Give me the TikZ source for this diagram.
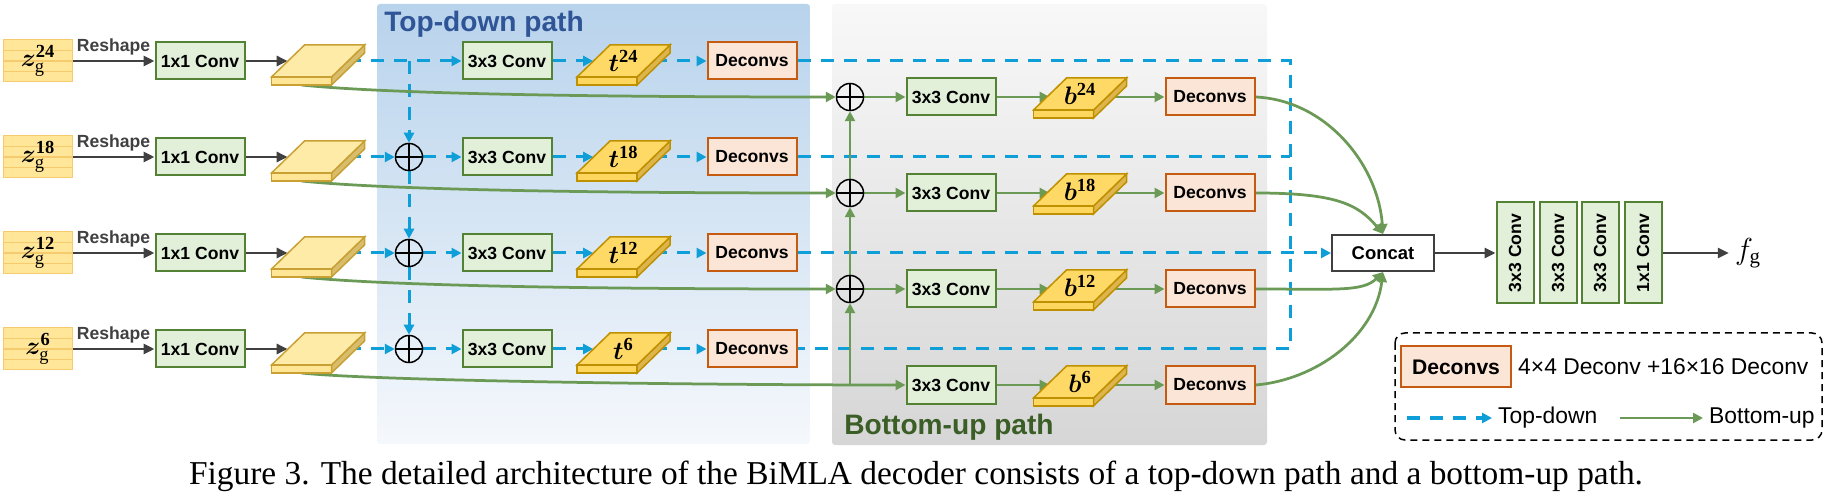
\documentclass[tikz,border=0pt]{standalone}
\usepackage{fontspec}
\setmainfont{Liberation Serif}
\setsansfont{Liberation Sans}
\usepackage{amsmath}
\usepackage{bm}
\usetikzlibrary{arrows.meta,calc}

\definecolor{convfill}{HTML}{E2F0D9}
\definecolor{convedge}{HTML}{548235}
\definecolor{decfill}{HTML}{FBE5D6}
\definecolor{decedge}{HTML}{C55A11}
\definecolor{zfill}{HTML}{FFE699}
\definecolor{zedge}{HTML}{F6CB6E}
\definecolor{ftop}{HTML}{FFEBA8}
\definecolor{ffront}{HTML}{FFE596}
\definecolor{fside}{HTML}{D8BD6C}
\definecolor{fedge}{HTML}{C9A033}
\definecolor{ttop}{HTML}{FFD966}
\definecolor{tfront}{HTML}{FFD75E}
\definecolor{tside}{HTML}{DDB54C}
\definecolor{tedge}{HTML}{BF9000}
\definecolor{tdblue}{HTML}{0E9ED8}
\definecolor{bugreen}{HTML}{6A9A56}
\definecolor{darkline}{HTML}{404040}
\definecolor{tdtext}{HTML}{2F5597}
\definecolor{butext}{HTML}{3B5E26}
\definecolor{bluetop}{HTML}{B8D3EC}
\definecolor{bluebot}{HTML}{F5F8FC}
\definecolor{graytop}{HTML}{F8F8F8}
\definecolor{graybot}{HTML}{D6D6D6}

\pgfdeclarelayer{panel}
\pgfdeclarelayer{links}
\pgfsetlayers{panel,links,main}

\tikzset{
	convbox/.style={draw=convedge, fill=convfill, line width=0.4mm, inner sep=0pt, minimum width=17.8mm, minimum height=7.4mm, font=\sffamily\bfseries\fontsize{10}{12}\selectfont},
	decbox/.style={convbox, draw=decedge, fill=decfill},
	vbox/.style={convbox, minimum width=7.4mm, minimum height=20.2mm},
	catbox/.style={convbox, draw=darkline, fill=white, minimum width=20.4mm, minimum height=7.2mm, font=\sffamily\bfseries\fontsize{10.5}{12}\selectfont},
	zbox/.style={fill=zfill, draw=zedge, line width=0.2mm, inner sep=0pt, minimum width=13.6mm, minimum height=8.4mm, font=\fontsize{15}{17}\selectfont,
		path picture={\foreach \k in {0.25,0.5,0.75} \draw[zedge, line width=0.25mm] ($(path picture bounding box.south west)!\k!(path picture bounding box.north west)$) -- ($(path picture bounding box.south east)!\k!(path picture bounding box.north east)$);}},
	slabnode/.style={inner sep=0pt, minimum width=12mm, minimum height=6.4mm, font=\fontsize{15}{17}\selectfont},
	addnode/.style={circle, draw, line width=0.3mm, inner sep=0pt, minimum size=5.4mm,
		path picture={\draw[line width=0.3mm] (path picture bounding box.north) -- (path picture bounding box.south) (path picture bounding box.west) -- (path picture bounding box.east);}},
	rslabel/.style={above=1.5pt, inner sep=1pt, font=\sffamily\bfseries\fontsize{10}{12}\selectfont},
	tdline/.style={tdblue, line width=0.6mm, dash pattern=on 2.6mm off 2mm},
	tdarrow/.style={tdline, -{Triangle[length=2mm,width=2mm]}},
	buarrow/.style={bugreen, line width=0.55mm, -{Triangle[length=2mm,width=2mm]}},
	dkarrow/.style={darkline, line width=0.55mm, -{Triangle[length=2.2mm,width=2mm]}},
	pathtitle/.style={anchor=west, inner sep=0pt, font=\sffamily\bfseries\fontsize{16}{18}\selectfont},
	legtext/.style={anchor=west, font=\sffamily\fontsize{13}{15}\selectfont},
	legbox/.style={black, line width=0.3mm, dash pattern=on 1.4mm off 1mm, rounded corners=2mm}
}

\newcommand{\slab}[5]{%
	\fill[#4front, draw=#4edge, line width=0.3mm] (#2-46.5,#3+16) -- (#2+13.5,#3+16) -- (#2+13.5,#3+24) -- (#2-46.5,#3+24) -- cycle;
	\fill[#4side, draw=#4edge, line width=0.3mm] (#2+13.5,#3+16) -- (#2+46.5,#3-16) -- (#2+46.5,#3-8) -- (#2+13.5,#3+24) -- cycle;
	\fill[#4top, draw=#4edge, line width=0.3mm] (#2-46.5,#3+16) -- (#2+13.5,#3+16) -- (#2+46.5,#3-16) -- (#2-13.5,#3-16) -- cycle;
	\node[slabnode] (#1) at (#2,#3) {#5};
	\coordinate (#1-b) at (#2-16.5,#3+24);
}

\begin{document}
\begin{tikzpicture}[x=0.2mm,y=-0.2mm]
	\useasboundingbox (0,0) rectangle (1828,499);
	\begin{pgfonlayer}{panel}
		\shade[top color=bluetop, bottom color=bluebot, rounded corners=0.6mm] (377,4) rectangle (810,444);
		\shade[top color=graytop, bottom color=graybot, rounded corners=0.6mm] (832,4) rectangle (1267,445);
	\end{pgfonlayer}
	\node[pathtitle, tdtext] (tdtitle) at (384,24) {Top-down path};
	\node[pathtitle, butext] (butitle) at (844,427) {Bottom-up path};
	\foreach \r/\n in {1/24,2/18,3/12,4/6}{
		\pgfmathsetmacro{\td}{61+96*(\r-1)}
		\pgfmathsetmacro{\bu}{\td+36}
		\node[zbox] (z\r) at (38,\td) {$\bm{z}_{\mathrm{g}}^{\mathbf{\n}}$};
		\node[convbox] (c\r) at (200,\td) {1x1 Conv};
		\slab{f\r}{318}{\td}{f}{}
		\node[convbox] (ct\r) at (507,\td) {3x3 Conv};
		\slab{t\r}{623.5}{\td}{t}{$\bm{t}^{\mathbf{\n}}$}
		\node[decbox] (dt\r) at (752,\td) {Deconvs};
		\node[convbox] (cb\r) at (951,\bu) {3x3 Conv};
		\slab{b\r}{1080}{\bu-3}{t}{$\bm{b}^{\mathbf{\n}}$}
		\node[decbox] (db\r) at (1210,\bu) {Deconvs};
	}
	\foreach \r in {2,3,4}
		\node[addnode] (pt\r) at (409,{61+96*(\r-1)}) {};
	\foreach \r in {1,2,3}
		\node[addnode] (pb\r) at (850,{97+96*(\r-1)}) {};
	\node[catbox] (cat) at (1383,253) {Concat};
	\foreach \x/\lab [count=\i] in {1515/3x3 Conv,1558/3x3 Conv,1600/3x3 Conv,1643/1x1 Conv}
		\node[vbox] (k\i) at (\x,253) {\rotatebox{90}{\lab}};
	\node[font=\fontsize{17}{19}\selectfont] (fg) at (1748,253) {$f_{\mathrm{g}}$};
	\coordinate (tdc) at (1290,61);

	\draw[legbox] (1395,333) rectangle (1822,440);
	\node[decbox, minimum width=22mm, minimum height=8.2mm, font=\sffamily\bfseries\fontsize{12}{14}\selectfont] (ldec) at (1456,367) {Deconvs};
	\node[legtext] (ltxt) at (ldec.east) {4×4 Deconv +16×16 Deconv};
	\coordinate (lta) at (1407,418);
	\node[legtext] (ltd) at (1492,418) {Top-down};
	\coordinate (lba) at (1620,418);
	\node[legtext] (lbu) at (1703,418) {Bottom-up};

	\node[anchor=base, font=\fontsize{19}{22}\selectfont] (caption) at (916,484) {Figure 3. The detailed architecture of the BiMLA decoder consists of a top-down path and a bottom-up path.};

	\begin{pgfonlayer}{links}
		\foreach \r in {1,...,4}{
			\draw[dkarrow] (z\r) -- node[rslabel] (rs\r) {Reshape} (c\r);
			\draw[dkarrow] (c\r) -- (f\r);
			\draw[tdarrow] (ct\r) -- (t\r);
			\draw[tdarrow] (t\r) -- (dt\r);
			\draw[buarrow] (cb\r) -- (cb\r -| b\r.west);
			\draw[buarrow] (b\r.east |- db\r) -- (db\r);
		}
		\draw[tdarrow] (f1) -- (ct1);
		\coordinate (tdj) at (pt2 |- ct1);
		\draw[tdarrow] (tdj) -- (pt2);
		\draw[tdarrow] (pt2) -- (pt3);
		\draw[tdarrow] (pt3) -- (pt4);
		\foreach \r in {2,3,4}{
			\draw[tdarrow] (f\r) -- (pt\r);
			\draw[tdarrow] (pt\r) -- (ct\r);
		}
		\draw[tdline] (dt1) -| (dt4 -| tdc) -- (dt4);
		\draw[tdline] (dt2) -- (dt2 -| tdc);
		\draw[tdarrow] (dt3) -- (cat);
		\foreach \r in {1,2,3}{
			\draw[buarrow] (f\r-b) .. controls +(77,8) and +(-287,0) .. (pb\r);
			\draw[buarrow] (pb\r) -- (cb\r);
		}
		\draw[buarrow] (f4-b) .. controls +(77,8) and +(-250,0) .. (cb4);
		\coordinate (buj) at (pb3 |- cb4);
		\draw[buarrow] (buj) -- (pb3);
		\draw[buarrow] (pb3) -- (pb2);
		\draw[buarrow] (pb2) -- (pb1);
		\draw[buarrow] (db1.east) .. controls +(70,3) and +(-5,-70) .. (cat.north);
		\draw[buarrow] (db2.east) .. controls +(80,0) and +(-25,-30) .. (cat.north);
		\draw[buarrow] (db3.east) .. controls +(80,0) and +(-20,20) .. (cat.south);
		\draw[buarrow] (db4.east) .. controls +(60,-5) and +(-8,65) .. (cat.south);
		\draw[dkarrow] (cat) -- (k1);
		\draw[dkarrow] (k4) -- (fg);
		\draw[tdarrow] (lta) -- (ltd);
		\draw[buarrow] (lba) -- (lbu);
	\end{pgfonlayer}
\end{tikzpicture}
\end{document}
